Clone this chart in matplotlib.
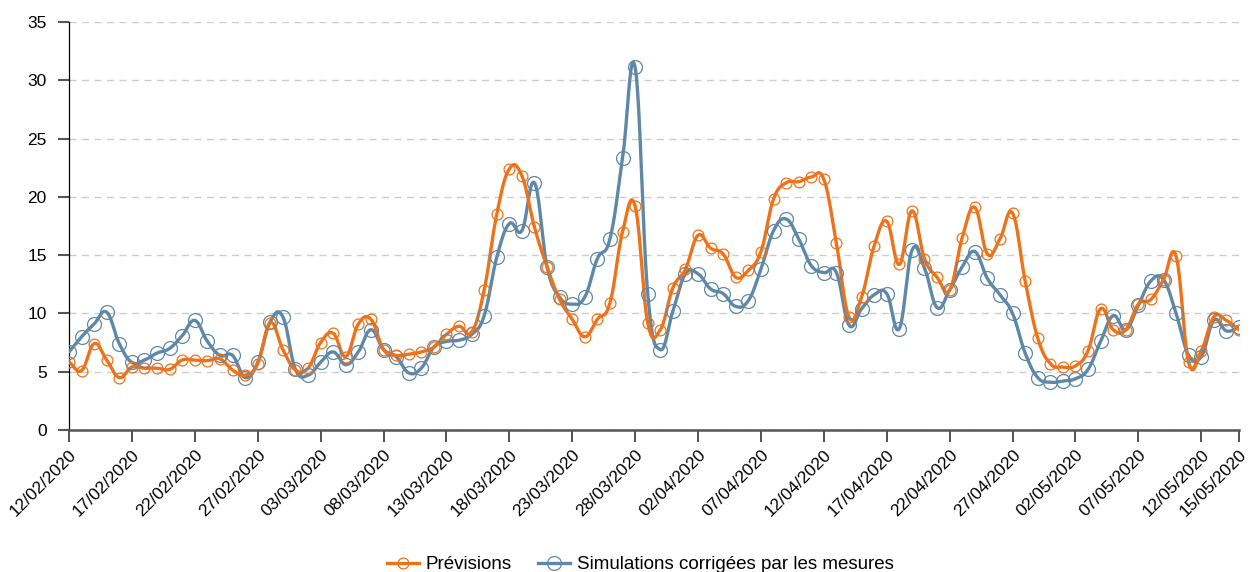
import numpy as np
import pandas as pd
import matplotlib
matplotlib.use("Agg")
import matplotlib.pyplot as plt
import matplotlib.dates as mdates

plt.rcParams["font.family"] = ["Liberation Sans", "DejaVu Sans"]

dates = pd.date_range("2020-02-12", "2020-05-15", freq="D")

previsions = [
    5.85, 5.1, 7.4, 6.0, 4.5, 5.4, 5.3, 5.3, 5.2, 6.0,
    6.0, 5.95, 6.1, 5.15, 4.7, 5.7, 9.2, 6.9, 5.15, 5.3,
    7.5, 8.3, 6.3, 9.1, 9.5, 6.9, 6.4, 6.5, 6.7, 7.1,
    8.2, 8.9, 8.4, 12.0, 18.5, 22.4, 21.8, 17.4, 14.0, 11.2,
    9.5, 8.0, 9.5, 10.9, 17.0, 19.2, 9.2, 8.6, 12.2, 13.8,
    16.7, 15.6, 15.1, 13.1, 13.7, 15.3, 19.8, 21.2, 21.3, 21.7,
    21.5, 16.0, 9.7, 11.4, 15.8, 17.9, 14.2, 18.8, 14.7, 13.1,
    12.0, 16.5, 19.1, 15.1, 16.4, 18.6, 12.8, 7.9, 5.7, 5.4,
    5.5, 6.8, 10.4, 8.6, 8.6, 10.8, 11.2, 12.9, 14.9, 5.8,
    6.8, 9.7, 9.4, 8.6,
]

simulations = [
    6.7, 8.0, 9.1, 10.1, 7.4, 5.8, 6.0, 6.6, 7.0, 8.1,
    9.4, 7.6, 6.4, 6.4, 4.5, 5.8, 9.3, 9.7, 5.2, 4.7,
    5.8, 6.7, 5.6, 6.7, 8.6, 6.9, 6.3, 4.9, 5.3, 7.1,
    7.6, 7.7, 8.2, 9.8, 14.8, 17.7, 17.1, 21.2, 14.0, 11.4,
    10.8, 11.4, 14.7, 16.4, 23.3, 31.1, 11.7, 6.9, 10.2, 13.4,
    13.4, 12.1, 11.7, 10.6, 11.1, 13.8, 17.1, 18.1, 16.4, 14.1,
    13.5, 13.5, 9.0, 10.4, 11.6, 11.7, 8.7, 15.4, 13.9, 10.5,
    12.0, 14.0, 15.3, 13.0, 11.6, 10.0, 6.6, 4.5, 4.1, 4.2,
    4.4, 5.2, 7.6, 9.8, 8.6, 10.7, 12.8, 12.9, 10.0, 6.4,
    6.3, 9.4, 8.5, 8.8,
]

ORANGE = "#EE7219"
BLUE = "#5F87A8"


def spline(x, y, smooth=0.4, n=20):
    # bezier spline through the points, tangents from neighbours
    x = np.asarray(x, float)
    y = np.asarray(y, float)
    m = np.zeros_like(y)
    m[1:-1] = (y[2:] - y[:-2]) / (x[2:] - x[:-2])
    m[0] = (y[1] - y[0]) / (x[1] - x[0])
    m[-1] = (y[-1] - y[-2]) / (x[-1] - x[-2])
    t = np.linspace(0, 1, n)[:, None]
    xs, ys = [], []
    for i in range(len(x) - 1):
        dx = x[i + 1] - x[i]
        px = [x[i], x[i] + smooth * dx, x[i + 1] - smooth * dx, x[i + 1]]
        py = [y[i], y[i] + smooth * dx * m[i], y[i + 1] - smooth * dx * m[i + 1], y[i + 1]]
        b = [(1 - t) ** 3, 3 * (1 - t) ** 2 * t, 3 * (1 - t) * t ** 2, t ** 3]
        xs.append(sum(bi * pi for bi, pi in zip(b, px)).ravel())
        ys.append(sum(bi * pi for bi, pi in zip(b, py)).ravel())
    return np.concatenate(xs), np.concatenate(ys)


xnum = mdates.date2num(dates)

fig = plt.figure(figsize=(12.51, 5.72), dpi=100)
ax = fig.add_axes([69 / 1251, 142 / 572, 1170 / 1251, 408 / 572])

for vals, col, ms in [(simulations, BLUE, 10.0), (previsions, ORANGE, 7.8)]:
    sx, sy = spline(xnum, vals)
    ax.plot(sx, sy, color=col, lw=2.4, zorder=3, solid_capstyle="round")
    ax.plot(xnum, vals, ls="none", marker="o", ms=ms, mfc="none",
            mec=col, mew=0.9, zorder=4)

ax.set_xlim(xnum[0], xnum[-1])
ax.set_ylim(0, 35)
ax.set_yticks(np.arange(0, 36, 5))

tick_idx = list(range(0, len(dates), 5)) + [len(dates) - 1]
ax.set_xticks(xnum[tick_idx])
ax.set_xticklabels([dates[i].strftime("%d/%m/%Y") for i in tick_idx],
                   rotation=45, ha="right", rotation_mode="anchor", fontsize=12.5)

ax.grid(axis="y", color="#cccccc", ls=(0, (5, 4)), lw=1)
ax.set_axisbelow(True)
for s in ["top", "right"]:
    ax.spines[s].set_visible(False)
ax.spines["left"].set_color("black")
ax.spines["left"].set_linewidth(0.9)
ax.spines["bottom"].set_color("#555555")
ax.spines["bottom"].set_linewidth(1.8)
ax.spines["bottom"].set_zorder(5)
ax.tick_params(axis="y", length=8, width=1.5, color="#555555", labelsize=12.5, pad=8)
ax.tick_params(axis="x", length=8.5, width=1.2, color="#333333", pad=4)

h_prev = plt.Line2D([], [], color=ORANGE, lw=2.4, marker="o", ms=7.8, mfc="none", mew=0.9)
h_sim = plt.Line2D([], [], color=BLUE, lw=2.4, marker="o", ms=10.0, mfc="none", mew=0.9)
fig.legend([h_prev, h_sim], ["Prévisions", "Simulations corrigées par les mesures"],
           loc="center", bbox_to_anchor=(0.512, 0.013), ncol=2, frameon=False,
           fontsize=13.5, handlelength=1.7, handletextpad=0.35, columnspacing=1.4,
           numpoints=1, borderaxespad=0)

fig.savefig("out.png", dpi=100)
